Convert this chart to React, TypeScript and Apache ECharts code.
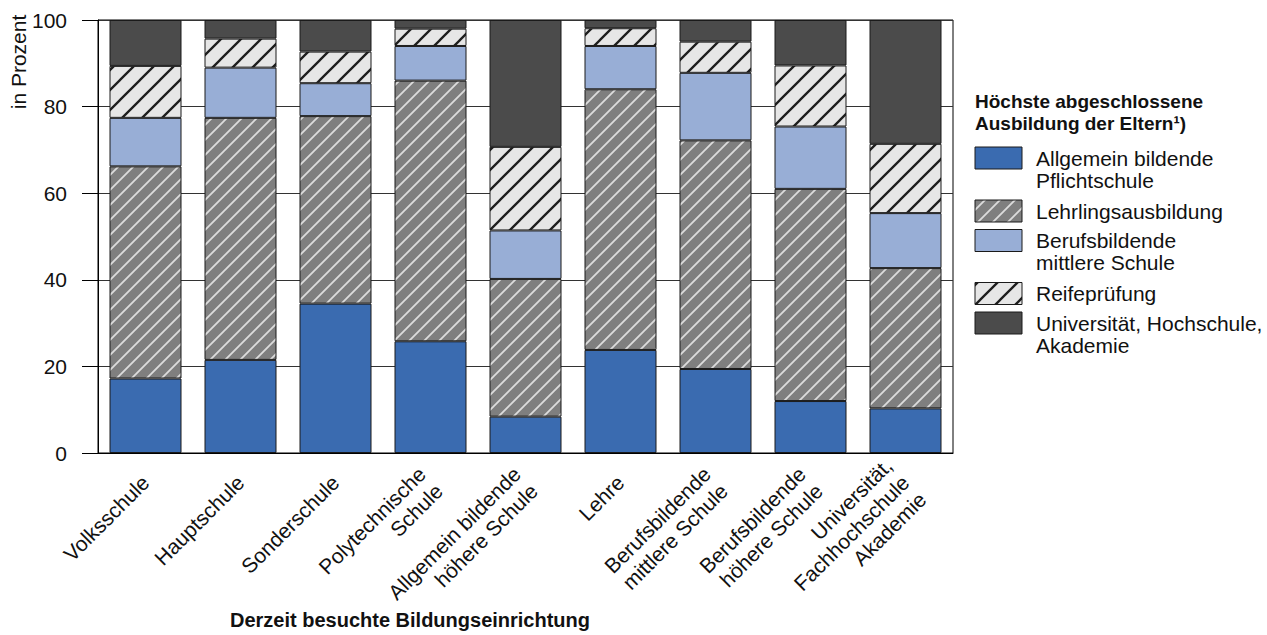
import React, { useEffect, useRef } from "react";
import * as echarts from "echarts";

const categories = [
  "Volksschule",
  "Hauptschule",
  "Sonderschule",
  "Polytechnische\nSchule",
  "Allgemein bildende\nhöhere Schule",
  "Lehre",
  "Berufsbildende\nmittlere Schule",
  "Berufsbildende\nhöhere Schule",
  "Universität,\nFachhochschule\nAkademie",
];

const seriesNames = [
  "Allgemein bildende\nPflichtschule",
  "Lehrlingsausbildung",
  "Berufsbildende\nmittlere Schule",
  "Reifeprüfung",
  "Universität, Hochschule,\nAkademie",
];

const allgemeinPflicht = [17.2, 21.5, 34.5, 25.8, 8.4, 23.8, 19.4, 12.0, 10.3];
const lehrling = [49.0, 55.9, 43.3, 60.2, 31.8, 60.2, 52.8, 49.0, 32.4];
const bmsEltern = [11.2, 11.6, 7.6, 8.0, 11.2, 10.0, 15.6, 14.4, 12.7];
const reife = [12.0, 6.7, 7.3, 4.0, 19.3, 4.1, 7.2, 14.1, 16.0];
const uniEltern = [10.6, 4.3, 7.3, 2.0, 29.3, 1.9, 5.0, 10.5, 28.6];

const yMin = 0;
const yMax = 100;
const yInterval = 20;

const legendTitle = "Höchste abgeschlossene\nAusbildung der Eltern¹)";
const yAxisTitle = "in Prozent";
const xAxisTitle = "Derzeit besuchte Bildungseinrichtung";

const FONT = "'Liberation Sans', Arial, Helvetica, sans-serif";

function hatch(bg: string, fg: string, size: number, width: number) {
  const c = document.createElement("canvas");
  c.width = size;
  c.height = size;
  const ctx = c.getContext("2d")!;
  ctx.fillStyle = bg;
  ctx.fillRect(0, 0, size, size);
  ctx.strokeStyle = fg;
  ctx.lineWidth = width;
  ctx.lineCap = "square";
  ctx.beginPath();
  ctx.moveTo(0, size);
  ctx.lineTo(size, 0);
  ctx.moveTo(-size / 2, size / 2);
  ctx.lineTo(size / 2, -size / 2);
  ctx.moveTo(size / 2, size * 1.5);
  ctx.lineTo(size * 1.5, size / 2);
  ctx.stroke();
  return { image: c, repeat: "repeat", imageWidth: size, imageHeight: size } as any;
}

export default function App() {
  const ref = useRef<HTMLDivElement>(null);

  useEffect(() => {
    if (!ref.current) return;
    const chart = echarts.init(ref.current, undefined, { renderer: "svg" });

    const fills: any[] = [
      "#3a6bb0",
      hatch("#7f7f7f", "#dcdcdc", 15, 1.8),
      "#98aed6",
      hatch("#e6e6e6", "#1e1e1e", 20, 2.3),
      "#4b4b4b",
    ];
    const dataSets = [allgemeinPflicht, lehrling, bmsEltern, reife, uniEltern];

    const series = seriesNames.map((name, i) => ({
      name,
      type: "bar",
      stack: "total",
      barWidth: 72,
      data: dataSets[i],
      itemStyle: { color: fills[i], borderColor: "#1a1a1a", borderWidth: 1 },
      emphasis: { disabled: true },
    }));

    // legend drawn as graphic elements
    const legendEls: any[] = [];
    legendEls.push({
      type: "text",
      x: 975,
      y: 90,
      style: {
        text: legendTitle,
        font: `bold 19px ${FONT}`,
        fill: "#111",
        lineHeight: 22,
        verticalAlign: "top",
        align: "left",
      },
    });
    let top = 147;
    seriesNames.forEach((name, i) => {
      const lines = name.split("\n").length;
      legendEls.push({
        type: "rect",
        shape: { x: 975, y: top, width: 47, height: 22 },
        style: { fill: fills[i], stroke: "#1a1a1a", lineWidth: 1 },
      });
      legendEls.push({
        type: "text",
        x: 1036,
        y: top,
        style: {
          text: name,
          font: `21px ${FONT}`,
          fill: "#111",
          lineHeight: 22,
          verticalAlign: "top",
          align: "left",
        },
      });
      top += 29.5 + 23.5 * (lines - 1);
    });

    chart.setOption({
      animation: false,
      grid: {
        left: 98,
        right: 314,
        top: 20,
        bottom: 182,
        show: true,
        borderColor: "#000",
        borderWidth: 1,
        backgroundColor: "transparent",
      },
      xAxis: {
        type: "category",
        data: categories,
        axisLine: { show: true, lineStyle: { color: "#000", width: 1 } },
        axisTick: { show: false },
        axisLabel: {
          interval: 0,
          rotate: 45,
          margin: 26,
          color: "#111",
          fontSize: 21,
          lineHeight: 24,
          fontFamily: FONT,
        },
      },
      yAxis: {
        type: "value",
        min: yMin,
        max: yMax,
        interval: yInterval,
        axisLine: { show: true, lineStyle: { color: "#000", width: 1 } },
        axisTick: { show: true, length: 16, lineStyle: { color: "#000", width: 1 } },
        splitLine: { show: true, lineStyle: { color: "#333", width: 1 } },
        axisLabel: {
          margin: 31,
          color: "#111",
          fontSize: 21,
          fontFamily: FONT,
        },
      },
      series,
      graphic: [
        {
          type: "text",
          x: 18,
          y: 62,
          rotation: Math.PI / 2,
          style: {
            text: yAxisTitle,
            font: `21px ${FONT}`,
            fill: "#111",
            align: "center",
            verticalAlign: "middle",
          },
        },
        {
          type: "text",
          x: 410,
          y: 620,
          style: {
            text: xAxisTitle,
            font: `bold 20px ${FONT}`,
            fill: "#111",
            align: "center",
            verticalAlign: "middle",
          },
        },
        ...legendEls,
      ],
    });

    return () => chart.dispose();
  }, []);

  return (
    <div
      ref={ref}
      style={{ position: "fixed", left: 0, top: 0, width: 1267, height: 635, background: "#fff" }}
    />
  );
}
